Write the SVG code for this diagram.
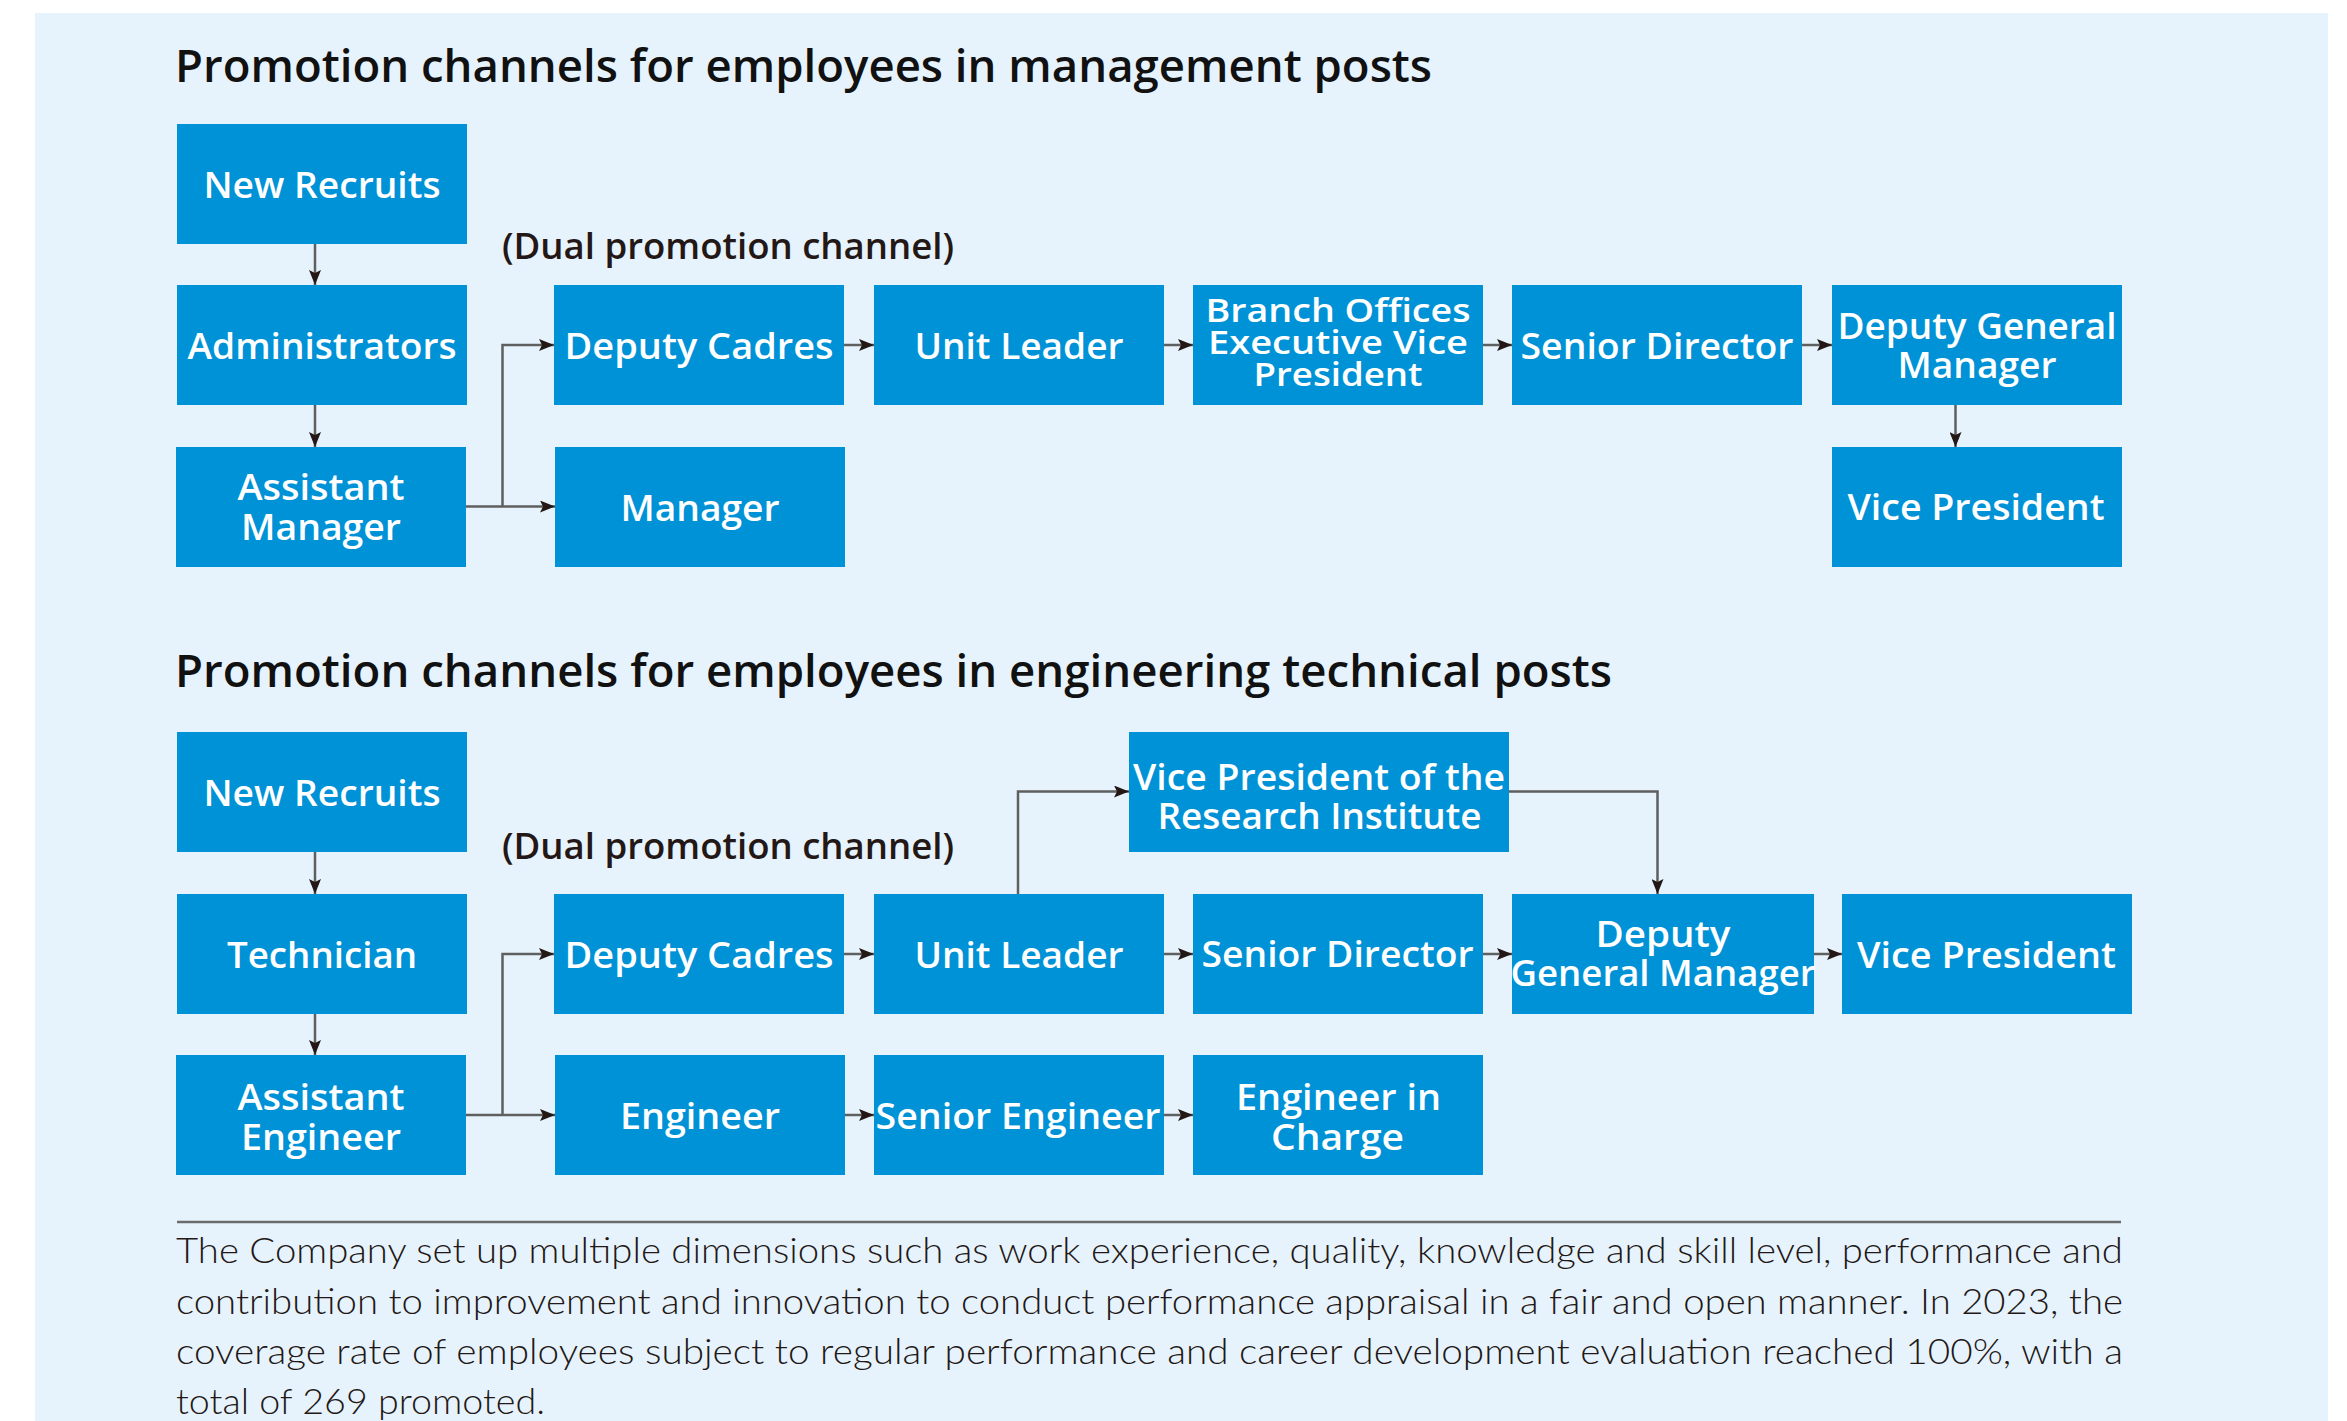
<svg xmlns="http://www.w3.org/2000/svg" width="2347" height="1421" viewBox="0 0 2347 1421">
<defs>
<style>
.bx{fill:#0092d6}
.bt{font-family:"Open Sans","Noto Sans","Liberation Sans",sans-serif;font-weight:600;font-size:36px;fill:#ffffff;text-anchor:middle}
.ttl{font-family:"Open Sans","Noto Sans","Liberation Sans",sans-serif;font-weight:600;font-size:45px;fill:#111111}
.dual{font-family:"Open Sans","Noto Sans","Liberation Sans",sans-serif;font-weight:600;font-size:36px;fill:#231815}
.par{font-family:Lato,"Noto Sans","Liberation Sans",sans-serif;font-weight:300;font-size:36px;fill:#231815}
.ln{fill:none;stroke:#5f5f5f;stroke-width:2.5}
.ar{marker-end:url(#ah)}
</style>
<marker id="ah" markerUnits="userSpaceOnUse" viewBox="0 0 15 12" refX="15" refY="6" markerWidth="15" markerHeight="12" orient="auto">
<path d="M0,0 L15,6 L0,12 L3,6 Z" fill="#231815"/>
</marker>
</defs>
<rect x="0" y="0" width="2347" height="1421" fill="#ffffff"/>
<rect x="35" y="13" width="2293" height="1408" fill="#e6f3fd"/>

<text class="ttl" x="175" y="82" textLength="1257" lengthAdjust="spacingAndGlyphs">Promotion channels for employees in management posts</text>
<text class="dual" x="502" y="259" textLength="452" lengthAdjust="spacingAndGlyphs">(Dual promotion channel)</text>
<text class="ttl" x="175" y="687" textLength="1437" lengthAdjust="spacingAndGlyphs">Promotion channels for employees in engineering technical posts</text>
<text class="dual" x="502" y="859" textLength="452" lengthAdjust="spacingAndGlyphs">(Dual promotion channel)</text>

<g id="connectors">
<line class="ln ar" x1="315" y1="244" x2="315" y2="285"/>
<line class="ln ar" x1="315" y1="405" x2="315" y2="447"/>
<line class="ln ar" x1="466" y1="506.5" x2="555" y2="506.5"/>
<polyline class="ln ar" points="502.5,506.5 502.5,345 554,345"/>
<line class="ln ar" x1="844" y1="345" x2="874" y2="345"/>
<line class="ln ar" x1="1164" y1="345" x2="1193" y2="345"/>
<line class="ln ar" x1="1482" y1="345" x2="1512" y2="345"/>
<line class="ln ar" x1="1802" y1="345" x2="1832" y2="345"/>
<line class="ln ar" x1="1955.5" y1="405" x2="1955.5" y2="447"/>

<line class="ln ar" x1="315" y1="852" x2="315" y2="894"/>
<line class="ln ar" x1="315" y1="1014" x2="315" y2="1055"/>
<line class="ln ar" x1="466" y1="1115" x2="555" y2="1115"/>
<polyline class="ln ar" points="502.5,1115 502.5,954 554,954"/>
<line class="ln ar" x1="844" y1="954" x2="874" y2="954"/>
<line class="ln ar" x1="1164" y1="954" x2="1193" y2="954"/>
<line class="ln ar" x1="1482" y1="954" x2="1512" y2="954"/>
<line class="ln ar" x1="1814" y1="954" x2="1842" y2="954"/>
<line class="ln ar" x1="845" y1="1115" x2="874" y2="1115"/>
<line class="ln ar" x1="1164" y1="1115" x2="1193" y2="1115"/>
<polyline class="ln ar" points="1018,894 1018,791.5 1129,791.5"/>
<polyline class="ln ar" points="1509,791.5 1657.5,791.5 1657.5,894"/>
</g>

<g id="m-new-recruits"><rect class="bx" x="177" y="124" width="290" height="120"/><text class="bt" x="322" y="198" textLength="237" lengthAdjust="spacingAndGlyphs">New Recruits</text></g>
<g id="m-administrators"><rect class="bx" x="177" y="285" width="290" height="120"/><text class="bt" x="322" y="359" textLength="269" lengthAdjust="spacingAndGlyphs">Administrators</text></g>
<g id="m-assistant-manager"><rect class="bx" x="176" y="447" width="290" height="120"/><text class="bt" x="321" y="499.5" textLength="167" lengthAdjust="spacingAndGlyphs">Assistant</text><text class="bt" x="321" y="539.5" textLength="160" lengthAdjust="spacingAndGlyphs">Manager</text></g>
<g id="m-deputy-cadres"><rect class="bx" x="554" y="285" width="290" height="120"/><text class="bt" x="699" y="359" textLength="269" lengthAdjust="spacingAndGlyphs">Deputy Cadres</text></g>
<g id="m-manager"><rect class="bx" x="555" y="447" width="290" height="120"/><text class="bt" x="700" y="521" textLength="159" lengthAdjust="spacingAndGlyphs">Manager</text></g>
<g id="m-unit-leader"><rect class="bx" x="874" y="285" width="290" height="120"/><text class="bt" x="1019" y="359" textLength="209" lengthAdjust="spacingAndGlyphs">Unit Leader</text></g>
<g id="m-branch-evp"><rect class="bx" x="1193" y="285" width="290" height="120"/><text class="bt" x="1338" y="321.5" style="font-size:33px" textLength="265" lengthAdjust="spacingAndGlyphs">Branch Offices</text><text class="bt" x="1338" y="353.5" style="font-size:33px" textLength="260" lengthAdjust="spacingAndGlyphs">Executive Vice</text><text class="bt" x="1338" y="386" style="font-size:33px" textLength="169" lengthAdjust="spacingAndGlyphs">President</text></g>
<g id="m-senior-director"><rect class="bx" x="1512" y="285" width="290" height="120"/><text class="bt" x="1657" y="359" textLength="273" lengthAdjust="spacingAndGlyphs">Senior Director</text></g>
<g id="m-deputy-gm"><rect class="bx" x="1832" y="285" width="290" height="120"/><text class="bt" x="1977" y="338.5" textLength="279" lengthAdjust="spacingAndGlyphs">Deputy General</text><text class="bt" x="1977" y="378" textLength="159" lengthAdjust="spacingAndGlyphs">Manager</text></g>
<g id="m-vice-president"><rect class="bx" x="1832" y="447" width="290" height="120"/><text class="bt" x="1976" y="519.5" textLength="257" lengthAdjust="spacingAndGlyphs">Vice President</text></g>

<g id="e-new-recruits"><rect class="bx" x="177" y="732" width="290" height="120"/><text class="bt" x="322" y="805.5" textLength="237" lengthAdjust="spacingAndGlyphs">New Recruits</text></g>
<g id="e-technician"><rect class="bx" x="177" y="894" width="290" height="120"/><text class="bt" x="322" y="967.5" textLength="190" lengthAdjust="spacingAndGlyphs">Technician</text></g>
<g id="e-assistant-engineer"><rect class="bx" x="176" y="1055" width="290" height="120"/><text class="bt" x="321" y="1110" textLength="167" lengthAdjust="spacingAndGlyphs">Assistant</text><text class="bt" x="321" y="1150" textLength="160" lengthAdjust="spacingAndGlyphs">Engineer</text></g>
<g id="e-deputy-cadres"><rect class="bx" x="554" y="894" width="290" height="120"/><text class="bt" x="699" y="967.5" textLength="269" lengthAdjust="spacingAndGlyphs">Deputy Cadres</text></g>
<g id="e-engineer"><rect class="bx" x="555" y="1055" width="290" height="120"/><text class="bt" x="700" y="1128.5" textLength="160" lengthAdjust="spacingAndGlyphs">Engineer</text></g>
<g id="e-unit-leader"><rect class="bx" x="874" y="894" width="290" height="120"/><text class="bt" x="1019" y="967.5" textLength="209" lengthAdjust="spacingAndGlyphs">Unit Leader</text></g>
<g id="e-senior-engineer"><rect class="bx" x="874" y="1055" width="290" height="120"/><text class="bt" x="1018" y="1128.5" textLength="285" lengthAdjust="spacingAndGlyphs">Senior Engineer</text></g>
<g id="e-vp-research"><rect class="bx" x="1129" y="732" width="380" height="120"/><text class="bt" x="1319" y="790" textLength="372" lengthAdjust="spacingAndGlyphs">Vice President of the</text><text class="bt" x="1319.5" y="829" textLength="324" lengthAdjust="spacingAndGlyphs">Research Institute</text></g>
<g id="e-senior-director"><rect class="bx" x="1193" y="894" width="290" height="120"/><text class="bt" x="1337.5" y="967" textLength="272" lengthAdjust="spacingAndGlyphs">Senior Director</text></g>
<g id="e-deputy-gm"><rect class="bx" x="1512" y="894" width="302" height="120"/><text class="bt" x="1663" y="947" textLength="135" lengthAdjust="spacingAndGlyphs">Deputy</text><text class="bt" x="1663" y="986" textLength="305" lengthAdjust="spacingAndGlyphs">General Manager</text></g>
<g id="e-vice-president"><rect class="bx" x="1842" y="894" width="290" height="120"/><text class="bt" x="1986.5" y="967.5" textLength="259" lengthAdjust="spacingAndGlyphs">Vice President</text></g>
<g id="e-engineer-in-charge"><rect class="bx" x="1193" y="1055" width="290" height="120"/><text class="bt" x="1338.5" y="1110" textLength="205" lengthAdjust="spacingAndGlyphs">Engineer in</text><text class="bt" x="1337.5" y="1150" textLength="133" lengthAdjust="spacingAndGlyphs">Charge</text></g>

<line x1="177" y1="1222" x2="2121" y2="1222" stroke="#6b6b6b" stroke-width="2.6"/>
<text class="par" x="176" y="1263" textLength="1947" lengthAdjust="spacingAndGlyphs">The Company set up multiple dimensions such as work experience, quality, knowledge and skill level, performance and</text>
<text class="par" x="176" y="1314" textLength="1947" lengthAdjust="spacingAndGlyphs">contribution to improvement and innovation to conduct performance appraisal in a fair and open manner. In 2023, the</text>
<text class="par" x="176" y="1364" textLength="1947" lengthAdjust="spacingAndGlyphs">coverage rate of employees subject to regular performance and career development evaluation reached 100%, with a</text>
<text class="par" x="176" y="1414" textLength="369" lengthAdjust="spacingAndGlyphs">total of 269 promoted.</text>
</svg>
